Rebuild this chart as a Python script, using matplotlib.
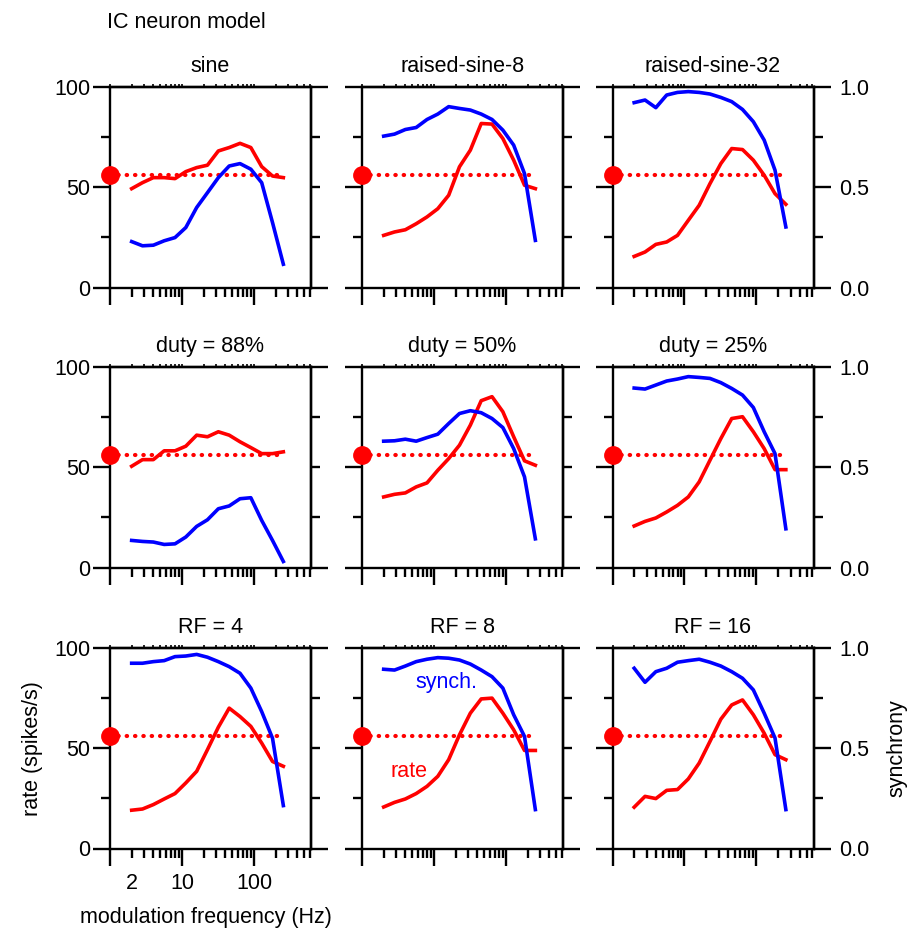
import matplotlib
matplotlib.use("Agg")
import matplotlib.pyplot as plt
from matplotlib.ticker import FixedLocator, FixedFormatter, NullFormatter

plt.rcParams['font.family'] = ['Liberation Sans', 'DejaVu Sans']
plt.rcParams['font.size'] = 15.5

# modulation frequencies (Hz), half-octave steps
freqs = [2, 2.83, 4, 5.66, 8, 11.3, 16, 22.6, 32, 45.3, 64, 90.5, 128, 181, 256]

titles = ["sine", "raised-sine-8", "raised-sine-32",
          "duty = 88%", "duty = 50%", "duty = 25%",
          "RF = 4", "RF = 8", "RF = 16"]

# rate (spikes/s)
rate_sine = [49.3, 52.3, 54.8, 54.8, 54.3, 57.8, 59.8, 61, 68.1, 69.8, 71.9, 69.8, 60.3, 55.6, 54.8]
rate_rs8 = [26, 27.7, 28.8, 31.8, 35.2, 39.3, 46, 60.2, 68.5, 81.8, 81.5, 74.3, 63.5, 51, 49.3]
rate_rs32 = [15.5, 17.7, 21.5, 22.7, 26, 33.5, 41, 51.8, 61.8, 69.3, 68.8, 63.5, 56, 46.8, 41.5]
rate_d88 = [50.5, 53.8, 53.8, 58.2, 58.2, 60.5, 66, 65.2, 67.7, 66, 62.7, 59.8, 56.8, 56.8, 57.7]
rate_d50 = [35.2, 36.5, 37.2, 40.2, 42.2, 48.5, 54.3, 61, 71, 83.2, 85.2, 77.7, 65.2, 53.2, 51]
rate_d25 = [20.7, 23, 24.7, 27.7, 31, 35.2, 42.7, 53.5, 64.3, 74.3, 75.2, 67.7, 59.3, 48.8, 48.8]
rate_rf4 = [19.1, 19.7, 21.9, 24.7, 27.4, 32.7, 38.5, 49.3, 60.5, 70, 65.8, 60.9, 52.6, 43.4, 41]
rate_rf8 = [20.7, 23, 24.7, 27.4, 31, 36, 44.3, 56.7, 67.5, 74.6, 75, 67.5, 59.2, 48.9, 48.9]
rate_rf16 = [20.6, 26, 24.9, 29, 29.4, 34.7, 42.6, 53.4, 64.5, 71.6, 74.1, 66.7, 57.5, 46.8, 44.3]

# synchrony (vector strength)
sync_sine = [0.229, 0.208, 0.211, 0.233, 0.249, 0.299, 0.399, 0.473, 0.548, 0.606, 0.618, 0.59, 0.523, 0.324, 0.116]
sync_rs8 = [0.755, 0.765, 0.788, 0.798, 0.838, 0.865, 0.902, 0.893, 0.885, 0.865, 0.838, 0.785, 0.71, 0.568, 0.235]
sync_rs32 = [0.922, 0.935, 0.897, 0.96, 0.973, 0.977, 0.973, 0.965, 0.948, 0.927, 0.888, 0.827, 0.735, 0.585, 0.302]
sync_d88 = [0.135, 0.13, 0.127, 0.115, 0.118, 0.152, 0.205, 0.238, 0.293, 0.307, 0.343, 0.348, 0.235, 0.135, 0.03]
sync_d50 = [0.63, 0.632, 0.64, 0.63, 0.648, 0.665, 0.718, 0.768, 0.782, 0.772, 0.743, 0.698, 0.593, 0.452, 0.143]
sync_d25 = [0.895, 0.89, 0.91, 0.93, 0.94, 0.952, 0.948, 0.943, 0.922, 0.893, 0.86, 0.798, 0.677, 0.568, 0.193]
sync_rf4 = [0.924, 0.924, 0.932, 0.937, 0.957, 0.96, 0.968, 0.954, 0.932, 0.907, 0.874, 0.80, 0.683, 0.55, 0.214]
sync_rf8 = [0.894, 0.89, 0.91, 0.932, 0.944, 0.952, 0.949, 0.94, 0.92, 0.89, 0.857, 0.80, 0.667, 0.559, 0.194]
sync_rf16 = [0.899, 0.829, 0.882, 0.899, 0.929, 0.937, 0.944, 0.929, 0.91, 0.882, 0.849, 0.791, 0.675, 0.551, 0.194]

rates = [rate_sine, rate_rs8, rate_rs32, rate_d88, rate_d50, rate_d25, rate_rf4, rate_rf8, rate_rf16]
syncs = [sync_sine, sync_rs8, sync_rs32, sync_d88, sync_d50, sync_d25, sync_rf4, sync_rf8, sync_rf16]

# spontaneous rate
spont_rate = 56
spont_x = [1, 240]

RED = '#ff0000'
BLUE = '#0000ff'
LW_AX = 1.7
LW_DATA = 2.6
MAJ = 12.5
MIN = 6.8

fig = plt.figure(figsize=(9.1, 9.33), dpi=100)
W, H = 910.0, 933.0
col_left = [110, 362, 612.5]
row_top = [87, 367, 648]
aw, ah = 201, 200.5

x_major = [1, 10, 100]
x_minor = [2, 3, 4, 5, 6, 7, 8, 9, 20, 30, 40, 50, 60, 70, 80, 90,
           200, 300, 400, 500, 600]

for i in range(9):
    r, c = divmod(i, 3)
    ax = fig.add_axes([col_left[c] / W, 1 - (row_top[r] + ah) / H, aw / W, ah / H])
    ax.set_xscale('log')
    ax.set_xlim(1, 620)
    ax.set_ylim(0, 100)
    for s in ax.spines.values():
        s.set_linewidth(LW_AX)

    # rate + spontaneous level
    ax.plot(freqs, rates[i], color=RED, lw=LW_DATA, solid_joinstyle='round', zorder=2)
    ax.plot(spont_x, [spont_rate, spont_rate], color=RED, lw=3,
            linestyle=(0, (0.1, 1.9)), dash_capstyle='round', zorder=2)
    ax.plot([1], [spont_rate], 'o', color=RED, ms=12.5, clip_on=False, zorder=4)

    # y axis (rate)
    ax.yaxis.set_major_locator(FixedLocator([0, 50, 100]))
    ax.yaxis.set_minor_locator(FixedLocator([25, 75]))
    ax.tick_params(axis='y', which='major', direction='out', length=MAJ, width=LW_AX,
                   left=True, right=False, pad=1.5, labelleft=(c == 0))
    ax.tick_params(axis='y', which='minor', direction='out', length=MIN, width=LW_AX,
                   left=True, right=False)

    # x axis
    ax.xaxis.set_major_locator(FixedLocator(x_major))
    ax.xaxis.set_minor_locator(FixedLocator(x_minor))
    bottom_left = (r == 2 and c == 0)
    if bottom_left:
        ax.xaxis.set_major_formatter(FixedFormatter(['', '10', '100']))
        ax.xaxis.set_minor_formatter(FixedFormatter(['2'] + [''] * (len(x_minor) - 1)))
    else:
        ax.xaxis.set_major_formatter(NullFormatter())
        ax.xaxis.set_minor_formatter(NullFormatter())
    ax.tick_params(axis='x', which='major', direction='out', length=MAJ, width=LW_AX,
                   top=False, pad=5)
    ax.tick_params(axis='x', which='minor', direction='out', length=MIN, width=LW_AX,
                   top=False, pad=5 + MAJ - MIN)

    # tiny ticks along the top edge
    sec = ax.secondary_xaxis('top')
    sec.xaxis.set_major_locator(FixedLocator(x_major))
    sec.xaxis.set_minor_locator(FixedLocator(x_minor))
    sec.xaxis.set_major_formatter(NullFormatter())
    sec.xaxis.set_minor_formatter(NullFormatter())
    sec.tick_params(axis='x', which='both', direction='out', length=2, width=1.2)
    sec.spines['top'].set_linewidth(LW_AX)

    # synchrony on twin axis
    ax2 = ax.twinx()
    ax2.set_ylim(0, 1)
    for side in ['left', 'top', 'bottom']:
        ax2.spines[side].set_visible(False)
    ax2.spines['right'].set_linewidth(LW_AX)
    ax2.plot(freqs, syncs[i], color=BLUE, lw=LW_DATA, solid_joinstyle='round', zorder=3)
    if c == 2:
        ax2.yaxis.set_major_locator(FixedLocator([0, 0.5, 1]))
        ax2.yaxis.set_minor_locator(FixedLocator([0.25, 0.75]))
        ax2.yaxis.set_major_formatter(FixedFormatter(['0.0', '0.5', '1.0']))
        ax2.tick_params(axis='y', which='major', direction='out', length=MAJ,
                        width=LW_AX, pad=6)
    else:
        ax2.yaxis.set_major_locator(FixedLocator([0, 1]))
        ax2.yaxis.set_minor_locator(FixedLocator([0.25, 0.5, 0.75]))
        ax2.yaxis.set_major_formatter(NullFormatter())
        ax2.tick_params(axis='y', which='major', direction='out', length=MAJ, width=LW_AX)
    ax2.yaxis.set_minor_formatter(NullFormatter())
    ax2.tick_params(axis='y', which='minor', direction='out', length=MIN, width=LW_AX)

    ax.text(0.5, 1.075, titles[i], transform=ax.transAxes, ha='center', va='baseline')

    if bottom_left:
        ax.set_ylabel("rate (spikes/s)", labelpad=8)
    if r == 2 and c == 2:
        ax2.set_ylabel("synchrony", labelpad=12)
    if r == 2 and c == 1:
        ax.text(14.7, 83, "synch.", color=BLUE, ha='center', va='center')
        ax.text(4.45, 38.4, "rate", color=RED, ha='center', va='center')

fig.text(107 / W, 1 - 22 / H, "IC neuron model", ha='left', va='center')
fig.text(206 / W, 1 - 918 / H, "modulation frequency (Hz)", ha='center', va='center')

fig.savefig("out.png", dpi=100)
